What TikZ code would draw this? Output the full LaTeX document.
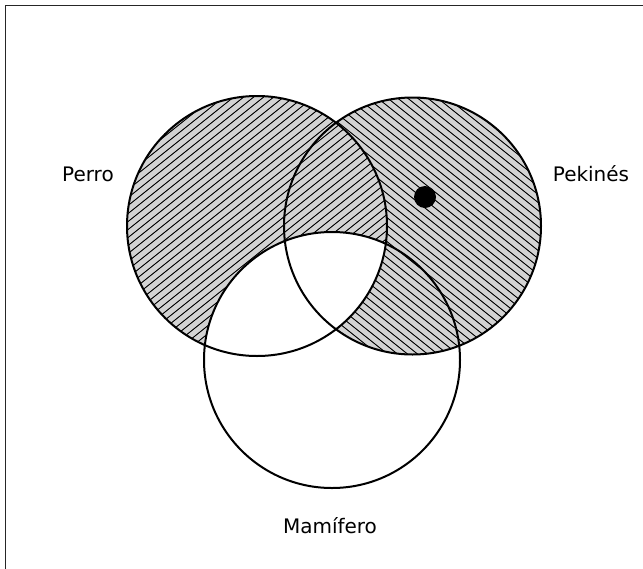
\documentclass[tikz,border=0pt]{standalone}
\usepackage{fontspec}
\setmainfont{DejaVu Sans}
\definecolor{hatchgray}{RGB}{211,211,211}
\tikzset{
  outline/.style={draw=black, line width=2pt},
  hatchline/.style={draw=black, line width=0.9pt},
  lbl/.style={font=\fontsize{20pt}{24pt}\selectfont, anchor=base, inner sep=0pt},
}
\begin{document}
\begin{tikzpicture}[x=1pt,y=-1pt]
\useasboundingbox (0,0) rectangle (643,568);
\clip (0,0) rectangle (643,568);
% frame
\draw[line width=1.6pt, draw=black!85] (5.5,5.5) rectangle (700,700);
% circle centres
\coordinate (P) at (257,226);
\coordinate (K) at (412.5,226);
\coordinate (M) at (332,360);
% Pekines region: gray + \\\ hatching
\begin{scope}
  \clip (K) circle[radius=128.5pt];
  \fill[hatchgray] (K) circle[radius=128.5pt];
  \foreach \c in {-420,-412,...,120} {
    \draw[hatchline] (270,{0.8*270+\c}) -- (560,{0.8*560+\c});
  }
\end{scope}
% Perro region: gray + /// hatching (on top)
\begin{scope}
  \clip (P) circle[radius=130pt];
  \fill[hatchgray] (P) circle[radius=130pt];
  \foreach \c in {180,188,...,720} {
    \draw[hatchline] (100,{\c-0.8*100}) -- (420,{\c-0.8*420});
  }
\end{scope}
% Perro inside Mamifero: white
\begin{scope}
  \clip (P) circle[radius=130pt];
  \fill[white] (M) circle[radius=128pt];
\end{scope}
% outlines
\draw[outline] (P) circle[radius=130pt];
\draw[outline] (K) circle[radius=128.5pt];
\draw[outline] (M) circle[radius=128pt];
% dot
\fill[black] (425,197) circle[radius=11pt];
% labels
\node[lbl] (lp) at (88,181) {Perro};
\node[lbl] (lk) at (591,181) {Pekinés};
\node[lbl] (lm) at (330,533) {Mamífero};
\end{tikzpicture}
\end{document}
